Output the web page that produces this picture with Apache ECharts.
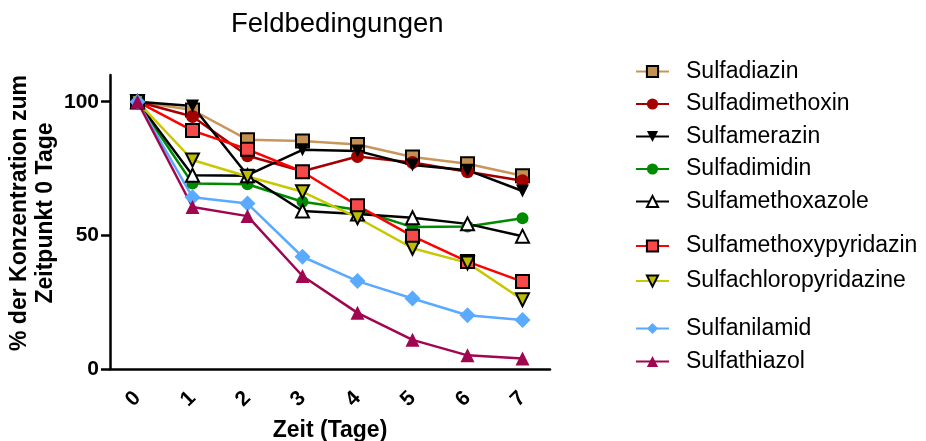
<!DOCTYPE html>
<html>
<head>
<meta charset="utf-8">
<title>Feldbedingungen</title>
<script src="https://cdn.jsdelivr.net/npm/echarts@6/dist/echarts.min.js"></script>
<style>
  html, body { margin: 0; padding: 0; background: #fff; }
  #chart { width: 926px; height: 441px; }
</style>
</head>
<body>
<div id="chart"></div>
<script>
// Days after application
const days = ['0', '1', '2', '3', '4', '5', '6', '7'];

// Remaining concentration (% of day 0) per substance
const sulfadiazin = [100, 96.9, 85.8, 85.3, 84.0, 79.3, 76.8, 72.3];
const sulfadimethoxin = [100, 94.5, 79.8, 74.0, 79.5, 77.3, 73.8, 70.4];
const sulfamerazin = [100, 98.4, 72.5, 82.0, 81.6, 76.3, 74.4, 66.6];
const sulfadimidin = [100, 69.4, 69.1, 62.6, 59.6, 53.1, 53.3, 56.4];
const sulfamethoxazole = [100, 72.5, 72.3, 59.1, 58.0, 56.6, 54.3, 49.7];
const sulfamethoxypyridazin = [100, 89.2, 82.2, 73.8, 61.1, 49.7, 40.2, 32.7];
const sulfachloropyridazine = [100, 78.2, 72.0, 66.3, 56.6, 45.2, 39.7, 25.9];
const sulfanilamid = [100, 64.3, 61.9, 42.0, 32.9, 26.4, 20.1, 18.3];
const sulfathiazol = [100, 60.6, 57.2, 34.8, 21.0, 10.9, 5.1, 3.9];

// Y axis tick values
const yTicks = [0, 50, 100];

const FONT = '"Liberation Sans", Arial, sans-serif';

function makeSeries(name, data, color, symbol, opts) {
  opts = opts || {};
  return {
    name: name,
    type: 'line',
    data: data,
    symbol: symbol,
    symbolSize: opts.size || 13,
    symbolRotate: opts.rotate || 0,
    lineStyle: { color: color, width: 2.5 },
    itemStyle: {
      color: opts.fill || color,
      borderColor: opts.border || opts.fill || color,
      borderWidth: opts.border ? 2 : 0
    },
    emphasis: { disabled: true },
    animation: false
  };
}

const series = [
  makeSeries('Sulfadiazin', sulfadiazin, '#C8965A', 'rect', { fill: '#C39050', border: '#000', size: 13 }),
  makeSeries('Sulfadimethoxin', sulfadimethoxin, '#A50000', 'circle', { size: 13 }),
  makeSeries('Sulfamerazin', sulfamerazin, '#000000', 'triangle', { rotate: 180, size: 13 }),
  makeSeries('Sulfadimidin', sulfadimidin, '#008A00', 'circle', { size: 12 }),
  makeSeries('Sulfamethoxazole', sulfamethoxazole, '#000000', 'triangle', { fill: '#ffffff', border: '#000', size: 13 }),
  makeSeries('Sulfamethoxypyridazin', sulfamethoxypyridazin, '#FF0000', 'rect', { fill: '#F84848', border: '#000', size: 13 }),
  makeSeries('Sulfachloropyridazine', sulfachloropyridazine, '#C8C800', 'triangle', { fill: '#BDBD00', border: '#000', rotate: 180, size: 13 }),
  makeSeries('Sulfanilamid', sulfanilamid, '#5AAAFF', 'diamond', { size: 16 }),
  makeSeries('Sulfathiazol', sulfathiazol, '#A0064F', 'triangle', { size: 14 })
];

function legendGroup(names, top, gap) {
  return {
    data: names,
    orient: 'vertical',
    left: 635,
    top: top,
    padding: 0,
    itemGap: gap,
    itemWidth: 33,
    itemHeight: 14,
    selectedMode: false,
    textStyle: {
      fontFamily: FONT,
      fontSize: 23,
      lineHeight: 24,
      color: '#000',
      padding: [0, 0, 0, 12]
    }
  };
}

const chart = echarts.init(document.getElementById('chart'), null, { renderer: 'canvas' });

chart.setOption({
  animation: false,
  backgroundColor: '#ffffff',
  title: {
    text: 'Feldbedingungen',
    left: 231,
    top: 10,
    padding: 0,
    textStyle: { fontFamily: FONT, fontSize: 27.5, fontWeight: 'normal', color: '#000' }
  },
  legend: [
    legendGroup(['Sulfadiazin', 'Sulfadimethoxin', 'Sulfamerazin', 'Sulfadimidin', 'Sulfamethoxazole'], 59.5, 8.5),
    legendGroup(['Sulfamethoxypyridazin', 'Sulfachloropyridazine'], 234, 11),
    legendGroup(['Sulfanilamid', 'Sulfathiazol'], 316.5, 9)
  ],
  grid: { left: 110, top: 75, width: 440, height: 294, containLabel: false, outerBoundsMode: 'none' },
  xAxis: {
    type: 'category',
    data: days,
    boundaryGap: true,
    name: 'Zeit (Tage)',
    nameLocation: 'middle',
    nameGap: 50,
    nameTextStyle: { fontFamily: FONT, fontSize: 23, fontWeight: 'bold', color: '#000' },
    axisLine: { lineStyle: { color: '#000', width: 2.5 } },
    axisTick: { alignWithLabel: true, length: 10, lineStyle: { color: '#000', width: 2.5 } },
    axisLabel: {
      rotate: 45,
      margin: 26,
      fontFamily: FONT,
      fontSize: 21,
      fontWeight: 'bold',
      color: '#000'
    },
    splitLine: { show: false }
  },
  yAxis: {
    type: 'value',
    min: 0,
    max: 110,
    interval: 50,
    name: '% der Konzentration zum\nZeitpunkt 0 Tage',
    nameLocation: 'middle',
    nameGap: 51,
    nameTextStyle: {
      fontFamily: FONT, fontSize: 23, fontWeight: 'bold', color: '#000',
      lineHeight: 26, align: 'center', padding: [0, 0, 0, 18]
    },
    axisLine: { show: true, lineStyle: { color: '#000', width: 2.5 } },
    axisTick: { show: true, length: 9, lineStyle: { color: '#000', width: 2.5 } },
    axisLabel: {
      margin: 11,
      fontFamily: FONT,
      fontSize: 21,
      fontWeight: 'bold',
      color: '#000',
      showMaxLabel: false,
      formatter: function (v) { return yTicks.indexOf(v) >= 0 ? String(v) : ''; }
    },
    splitLine: { show: false }
  },
  series: series
});
</script>
</body>
</html>
